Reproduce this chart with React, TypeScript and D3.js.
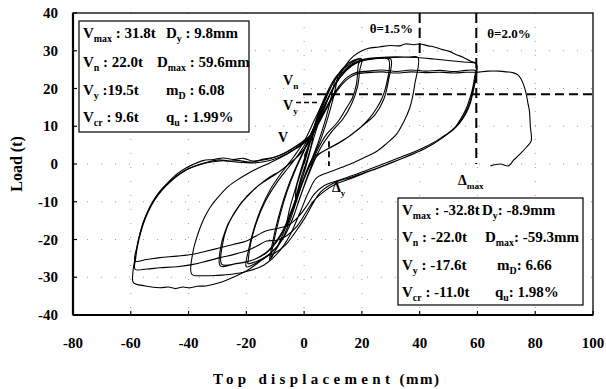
import React from "react";
import * as d3 from "d3";

type Pt = [number, number];

const xTicks = [-80, -60, -40, -20, 0, 20, 40, 60, 80, 100];
const yTicks = [-40, -30, -20, -10, 0, 10, 20, 30, 40];

// small elastic cycles (±3, ±6 mm)
const loopSmall: Pt[] = [
  [0, 0], [1.5, 4], [3, 8], [2.6, 5.5], [1, 1], [-1, -3.5], [-3, -9], [-2.6, -6], [-1, -2],
  [0.5, 1.5], [2.5, 7], [4.5, 12], [6, 15.5], [5.3, 12], [3, 6], [0.5, -1], [-2, -7],
  [-4.5, -13], [-6, -16.5], [-5.2, -12.5], [-3, -6.5], [-0.5, 0], [2, 6], [4.5, 12.5], [6.2, 16],
];

// ±10 mm cycles
const loop10: Pt[] = [
  [6.2, 16], [8, 19], [10.5, 22.5], [9.6, 18.5], [7.5, 12], [5, 6], [2, 0], [-1, -6], [-4, -13],
  [-7, -19], [-10, -23], [-11.5, -25], [-10.6, -21], [-8.5, -14], [-6, -7.5], [-3, -1.5], [0, 3.5],
  [3, 9], [6, 15], [9, 20.5], [11.5, 23.5], [10.7, 19.5], [8.5, 13], [6, 7], [3, 1.5], [0, -4],
  [-3, -10], [-6, -16], [-9, -21.5], [-12, -25.5],
];

// ±20 mm cycles
const loop20: Pt[] = [
  [-12, -25.5], [-11, -21], [-9, -14.5], [-6.5, -8], [-3.5, -2], [-0.5, 3], [2.5, 8], [5.5, 13.5],
  [8.5, 19], [11.5, 23.5], [14.5, 26.2], [17.5, 27.6], [19.5, 28], [18.8, 26.4], [18.1, 21.1],
  [16.7, 17.5], [14.7, 14.9], [11.5, 11], [7.8, 7.9], [4.5, 3.5], [1.5, -2.5], [-1.5, -9],
  [-4.5, -15.5], [-8, -20.5], [-12, -24], [-16, -26], [-20, -27.2], [-19.3, -23], [-17.5, -17.5],
  [-15, -12], [-11.5, -6.5], [-7.5, -2], [-3.5, 2], [0, 6], [3.5, 11.5], [7, 17], [10.5, 22],
  [14, 25.5], [17.5, 27.3], [20, 27.8], [19.3, 25], [18.5, 20.5], [16.5, 16], [13.5, 12],
  [9.5, 8.5], [5.5, 4], [2, -2], [-1, -8], [-4, -14.5], [-7.5, -20], [-11.5, -23.5],
  [-15.5, -25.5], [-19.5, -26.5],
];

// ±30 mm cycles
const loop30: Pt[] = [
  [-19.5, -26.5], [-18.5, -21], [-16.5, -15.5], [-13.5, -10], [-9.5, -5], [-5.5, -1], [-1.5, 3],
  [2, 7.5], [5.5, 13], [9, 18.5], [12.5, 23], [16, 26], [20, 27.5], [24.5, 28], [29.2, 27.7],
  [28.5, 21.1], [27, 17.5], [25.2, 14.9], [22.5, 12], [19.4, 9.6], [15.5, 7.3], [11.3, 5.2],
  [7, 3.5], [3.2, 1.7], [0.5, -2.5], [-2, -8], [-5, -14], [-8.5, -19.5], [-13, -23.5],
  [-18, -25.5], [-23, -26.3], [-28.5, -26.6], [-28, -20.4], [-27, -17.5], [-25.7, -15.1],
  [-23.5, -12.3], [-21.1, -9.8], [-18.3, -7.5], [-15.3, -5.4], [-12, -3.5], [-8.4, -1.9],
  [-5, 0.2], [-1.4, 2.6], [2, 6.5], [5.5, 12.5], [9, 18.5], [12.5, 23], [16.5, 26], [21, 27.6],
  [26, 28], [30, 27.8], [29.3, 22.5], [27.5, 17], [24.5, 13], [20, 10], [15, 7], [10, 4.8],
  [5, 2.5], [1.5, -1], [-1.5, -6.5], [-4.5, -12.5], [-8, -18.5], [-12.5, -23], [-18, -25.5],
  [-24, -26.5], [-29, -27], [-28.6, -21], [-27.4, -18], [-26.3, -15.8], [-21.8, -10.3],
  [-16, -5.8], [-9, -2.3], [-2, 2.2], [2, 6],
];

// ±40 mm cycle, then on to the first 60 mm peak
const loop40: Pt[] = [
  [2, 6], [5.5, 12], [9, 18.5], [12.5, 23.5], [16.5, 26.5], [21, 27.8], [26, 28.2], [32, 28.4],
  [36, 28.3], [39.4, 28.2], [38.3, 21.1], [37.6, 18], [36.6, 14.9], [34.5, 11.2], [32, 7.9],
  [28.5, 5.4], [25.2, 3.4], [20.5, 1.6], [16, 0], [10, -1.8], [4.4, -3.6], [1.5, -7.5],
  [-1.5, -13], [-5, -19], [-9, -23.5], [-14, -26.8], [-20, -28.5], [-25, -29.2], [-30, -29.5],
  [-35, -29.6], [-38.9, -29.2], [-38.4, -23], [-37.3, -19.8], [-36, -16.9], [-34.5, -14.2],
  [-32.6, -11.6], [-30, -9], [-26.8, -6.3], [-23.5, -4.4], [-19.9, -2.7], [-16.5, -1.3],
  [-13, -0.1], [-9.5, 1.2], [-6, 2.6], [-2.5, 4.2], [0.9, 6.1], [4, 10.5], [7, 15.5], [10, 20],
  [13, 23.5], [17, 26.3], [22, 27.6], [28, 28.1], [34, 28.3], [39.4, 28.2], [45, 27.8],
  [50, 27.4], [55, 27], [59.6, 26.5], [59.4, 22.5], [58.6, 19.5], [57.5, 16], [56, 13.3],
  [54, 11], [51.5, 9], [48.5, 7.5], [45.5, 6], [42, 4.6], [38, 3.2], [34, 2], [30, 0.8],
  [26, -0.4], [21.5, -1.7], [17, -3], [12, -4.3], [7, -5.7], [3.5, -8], [1, -11], [-2, -14],
  [-5.5, -16.2], [-9, -17], [-13, -17.7], [-16.5, -19], [-19.9, -20.4], [-24.5, -21.3],
  [-29.1, -22.2], [-34, -23.1], [-38.4, -23.9], [-44, -24.4], [-49.9, -24.8], [-54.5, -25.3],
  [-58.5, -25.7], [-57.9, -22], [-57, -19], [-55.7, -15.5], [-54, -12.3], [-51.8, -9.2],
  [-49, -6.5], [-46, -4.2], [-43, -2.5], [-40, -1.2], [-36.5, -0.2], [-33, 0.6], [-29.5, 1.1],
  [-26, 0.8], [-22.5, 0.9], [-19, 0.5], [-15.5, 0.9], [-12, 1.4], [-8.5, 2.3], [-5, 3.6],
  [-2, 5], [1, 6.5], [3.5, 9], [6, 12.5], [8.5, 16], [11, 19.5],
];

// ±60 mm cycles and the final push to failure
const loop60: Pt[] = [
  [0, 2], [3, 7.5], [6, 13], [9, 18.5], [12, 23], [14.5, 26.3], [17, 28.5], [19.5, 29.8],
  [22, 30.6], [26, 31], [30, 31.4], [33, 31.3], [35, 31.8], [38, 31.6], [40, 31.8], [43, 31.3],
  [45, 31], [48, 30.3], [50, 29.9], [53, 28.9], [55, 28.3], [57.5, 27.3], [59.6, 26.5],
  [59, 23], [58.3, 20], [57.2, 17], [56, 14.5], [54.5, 12.3], [52.5, 10], [50, 8.2], [47.5, 6.8],
  [44.5, 5.2], [41, 3.8], [37, 2.5], [33, 1.2], [29, 0], [25, -1.2], [20.5, -2.4], [16, -3.6],
  [11, -4.8], [5.6, -7.5], [3, -10.5], [0.5, -14], [-3, -18], [-6.5, -21.5], [-10, -23.5],
  [-13, -24.5], [-16.5, -26.5], [-19.9, -28.3], [-24.5, -30], [-29.1, -31.4], [-34, -32.3],
  [-37, -32.4], [-39.5, -32.8], [-42, -32.6], [-44.5, -33], [-47, -32.6], [-49.9, -32.8],
  [-55, -32.3], [-59.1, -31.4], [-59.3, -29], [-59, -27], [-58.2, -24], [-57.4, -20.4],
  [-56.2, -16.8], [-54.5, -13.3], [-52.5, -10.2], [-49.9, -7.2], [-47, -4.8], [-44.1, -2.7],
  [-41.2, -1.2], [-38.4, -0.1], [-35, 0.9], [-31.4, 1.2], [-28, 1.6], [-24.5, 1.2], [-21, 1.5],
  [-17.6, 0.8], [-14, 1.3], [-10.7, 1.7], [-7, 2.8], [-3.7, 4.3], [-0.5, 6], [2, 7.5],
  [4.5, 10.5], [7, 14], [9.5, 17.5], [12, 20.5], [15, 23], [18, 24.2], [22, 24.6], [27, 24.9],
  [32, 24.5], [37, 24.9], [42, 24.6], [47, 24.8], [52, 24.5], [56, 24.8], [59.6, 24.6],
  [59, 21.5], [58.2, 18.5], [57, 15.5], [55.5, 13], [53.5, 10.7], [51, 8.8], [48, 7], [45, 5.5],
  [41.5, 4], [37.5, 2.6], [33.5, 1.3], [29.5, 0.1], [25.5, -1.1], [21, -2.4], [16.5, -3.8],
  [11.5, -5.1], [6.5, -7.5], [3, -10], [0.5, -13], [-2.5, -16.5], [-6, -19], [-9.5, -20.2],
  [-13, -20.4], [-16.5, -21.8], [-19.9, -23], [-24.5, -24], [-29.1, -24.8], [-34, -25.8],
  [-38.4, -26.6], [-44, -27.2], [-49.9, -27.5], [-54.5, -27.8], [-58.5, -27.9], [-58.3, -25],
  [-57.6, -21.5], [-56.5, -18], [-55, -14.5], [-53, -11.2], [-50.5, -8.2], [-47.5, -5.6],
  [-44.5, -3.5], [-41.5, -1.9], [-38.5, -0.8], [-35, 0.1], [-31.4, 0.6], [-28, 0.9],
  [-24.5, 0.6], [-21, 0.4], [-17.6, 0.3], [-14, 0.6], [-10.7, 1.2], [-7, 2.3], [-3.7, 3.8],
  [-0.5, 5.5], [2, 7], [4.5, 10], [7, 13.5], [9.5, 17], [12, 20], [15, 22.5], [18, 23.8],
  [22, 24.2], [27, 24.4], [32, 24.1], [37, 24.4], [42, 24.2], [47, 24.3], [52, 24.1], [56, 24.3],
  [59.6, 24.3], [63.5, 24.6], [67.6, 24.6], [70, 24.4], [72.2, 24.2], [74, 23.6], [75.2, 22.4],
  [76.2, 20.5], [76.9, 18.5], [77.5, 16], [78, 14], [78.3, 10], [78.6, 6.1], [77, 4.5],
  [74.7, 2.6], [72.5, 1], [70.7, -0.5], [67.9, 0], [64.5, -0.5],
];

const loops = [loopSmall, loop10, loop20, loop30, loop40, loop60];

// reference lines: yield load level, drift limits, yield displacement
const loadLevels = [18.5];
const driftLines = [{ x: 40, top: 40, bottom: 28.8 }, { x: 59.6, top: 40, bottom: 0 }];
const yieldDisp = [{ x: 8.6, top: 6, bottom: -0.5 }];

const statsPos = [
  [["V", "max", " : 31.8t"], ["D", "y", " : 9.8mm"]],
  [["V", "n", " : 22.0t"], ["D", "max", " : 59.6mm"]],
  [["V", "y", " :19.5t"], ["m", "D", " : 6.08"]],
  [["V", "cr", " : 9.6t"], ["q", "u", " : 1.99%"]],
];
const statsNeg = [
  [["V", "max", " : -32.8t"], ["D", "y", ": -8.9mm"]],
  [["V", "n", " : -22.0t"], ["D", "max", ": -59.3mm"]],
  [["V", "y", " : -17.6t"], ["m", "D", ": 6.66"]],
  [["V", "cr", " : -11.0t"], ["q", "u", ": 1.98%"]],
];

const FONT = "'Liberation Serif', 'Times New Roman', serif";

const Sub = ({ x, y, parts, size = 15 }: { x: number; y: number; parts: string[]; size?: number }) => (
  <text x={x} y={y} fontFamily={FONT} fontWeight="bold" fontSize={size} fill="#000">
    {parts[0]}
    <tspan dy={4} fontSize={size * 0.66}>{parts[1]}</tspan>
    <tspan dy={-4}>{parts[2]}</tspan>
  </text>
);

const App = () => {
  const W = 606, H = 389;
  const x = d3.scaleLinear().domain([-80, 100]).range([73, 593]);
  const y = d3.scaleLinear().domain([-40, 40]).range([315, 13]);
  const line = d3.line<Pt>().x(d => x(d[0])).y(d => y(d[1])).curve(d3.curveCatmullRom.alpha(0.5));

  const rowsA = [38, 67, 95, 122];
  const colA = [166, 157, 166, 166];
  const rowsB = [215, 242, 270, 297];
  const colB = [482, 485, 497, 495];

  return (
    <svg width={W} height={H} style={{ position: "absolute", left: 0, top: 0, background: "#fff" }}>
      {/* sparse dotted grid */}
      <g stroke="#777" strokeWidth={1} strokeDasharray="1 13" opacity={0.7}>
        {xTicks.slice(1, -1).map(t => (
          <line key={"gx" + t} x1={x(t)} x2={x(t)} y1={y(40)} y2={y(-40)} />
        ))}
        {yTicks.slice(1, -1).map(t => (
          <line key={"gy" + t} x1={x(-80)} x2={x(100)} y1={y(t)} y2={y(t)} />
        ))}
      </g>

      {/* hysteresis loops */}
      <g fill="none" stroke="#000" strokeWidth={1.1} strokeLinejoin="round">
        {loops.map((l, i) => (
          <path key={i} d={line(l) ?? ""} />
        ))}
      </g>

      {/* dashed reference lines */}
      <g stroke="#000" fill="none" strokeWidth={2}>
        {loadLevels.map(v => (
          <line key={"ll" + v} x1={x(-0.4)} x2={x(100)} y1={y(v)} y2={y(v)} strokeDasharray="9 5" />
        ))}
        <line x1={x(-2.8)} x2={x(5.5)} y1={y(16.3)} y2={y(16.3)} strokeDasharray="5 3" strokeWidth={1.6} />
        {driftLines.map(d => (
          <line key={"dl" + d.x} x1={x(d.x)} x2={x(d.x)} y1={y(d.top)} y2={y(d.bottom)} strokeDasharray="10 5" />
        ))}
        {yieldDisp.map(d => (
          <line key={"yd" + d.x} x1={x(d.x)} x2={x(d.x)} y1={y(d.top)} y2={y(d.bottom)} strokeDasharray="6 4" strokeWidth={1.8} />
        ))}
      </g>

      {/* frame and axes */}
      <rect x={x(-80)} y={y(40)} width={x(100) - x(-80)} height={y(-40) - y(40)} fill="none" stroke="#000" strokeWidth={1.3} />
      <line x1={x(-80)} x2={x(-80)} y1={y(40)} y2={y(-40)} stroke="#000" strokeWidth={2.2} />
      <line x1={x(-80)} x2={x(100)} y1={y(-40)} y2={y(-40)} stroke="#000" strokeWidth={2.2} />
      <g stroke="#000" strokeWidth={1.2}>
        {yTicks.map(t => (
          <line key={"ty" + t} x1={x(-80)} x2={x(-80) + 4} y1={y(t)} y2={y(t)} />
        ))}
        {xTicks.map(t => (
          <line key={"tx" + t} x1={x(t)} x2={x(t)} y1={y(-40)} y2={y(-40) - 4} />
        ))}
      </g>
      <g fontFamily={FONT} fontWeight="bold" fontSize={15} fill="#000">
        {yTicks.map(t => (
          <text key={"ly" + t} x={58} y={y(t) + 5} textAnchor="end">{t}</text>
        ))}
        {xTicks.map(t => (
          <text key={"lx" + t} x={x(t)} y={348} textAnchor="middle">{t}</text>
        ))}
      </g>
      <text transform={`translate(22,${y(0)}) rotate(-90)`} textAnchor="middle" fontFamily={FONT} fontWeight="bold" fontSize={16}>
        Load (t)
      </text>
      <text x={213} y={384} fontFamily={FONT} fontWeight="bold" fontSize={15}>
        <tspan letterSpacing={4.3}>Top displacement</tspan>
        <tspan letterSpacing={1.5}> (mm)</tspan>
      </text>

      {/* stat boxes */}
      <rect x={79} y={21} width={170} height={111} fill="#fff" stroke="#000" strokeWidth={1.2} />
      {statsPos.map((r, i) => (
        <g key={"sa" + i}>
          <Sub x={83} y={rowsA[i]} parts={r[0]} />
          <Sub x={colA[i]} y={rowsA[i]} parts={r[1]} />
        </g>
      ))}
      <rect x={398} y={198} width={185} height={107} fill="#fff" stroke="#000" strokeWidth={1.2} />
      {statsNeg.map((r, i) => (
        <g key={"sb" + i}>
          <Sub x={402} y={rowsB[i]} parts={r[0]} />
          <Sub x={colB[i]} y={rowsB[i]} parts={r[1]} />
        </g>
      ))}

      {/* annotations */}
      <g fontFamily={FONT} fontWeight="bold" fontSize={13} fill="#000">
        <text x={x(40) - 50} y={33}>θ=1.5%</text>
        <text x={x(59.6) + 11} y={38}>θ=2.0%</text>
      </g>
      <Sub x={283} y={85} parts={["V", "n", ""]} size={14} />
      <Sub x={283} y={110} parts={["V", "y", ""]} size={14} />
      <Sub x={278} y={142} parts={["V", "", ""]} size={14} />
      <Sub x={332} y={192} parts={["Δ", "y", ""]} size={14} />
      <Sub x={458} y={185} parts={["Δ", "max", ""]} size={14} />
    </svg>
  );
};

export default App;
